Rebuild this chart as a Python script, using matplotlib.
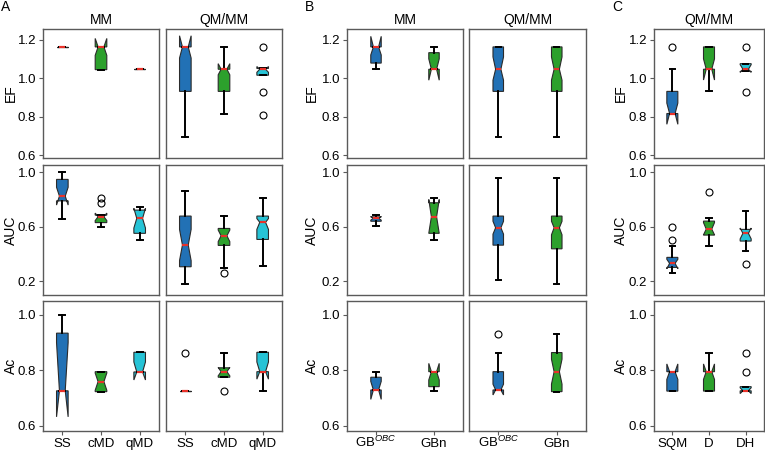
import matplotlib
matplotlib.use("Agg")
import matplotlib.pyplot as plt

plt.rcParams['font.family'] = ['Liberation Sans', 'DejaVu Sans']
plt.rcParams['mathtext.fontset'] = 'custom'
plt.rcParams['mathtext.rm'] = 'Liberation Sans'
plt.rcParams['mathtext.it'] = 'Liberation Sans:italic'

# box stats:
# (whislo, q1, cilo, med, cihi, q3, whishi, fliers)
A_MM_EF = [(1.162, 1.162, 1.162, 1.162, 1.162, 1.162, 1.162, []),
           (1.044, 1.044, 1.118, 1.162, 1.206, 1.162, 1.162, []),
           (1.046, 1.046, 1.046, 1.046, 1.046, 1.046, 1.046, [])]
A_QM_EF = [(0.696, 0.931, 1.104, 1.162, 1.220, 1.162, 1.162, []),
           (0.812, 0.931, 1.017, 1.046, 1.075, 1.046, 1.162, []),
           (1.015, 1.015, 1.030, 1.046, 1.060, 1.050, 1.050, [1.162, 0.930, 0.810])]
A_MM_AUC = [(0.658, 0.790, 0.759, 0.825, 0.890, 0.948, 1.000, []),
            (0.597, 0.630, 0.645, 0.673, 0.700, 0.685, 0.685, [0.810, 0.775]),
            (0.501, 0.551, 0.590, 0.661, 0.735, 0.722, 0.742, [])]
A_QM_AUC = [(0.177, 0.305, 0.350, 0.465, 0.580, 0.678, 0.864, []),
            (0.293, 0.462, 0.490, 0.533, 0.575, 0.587, 0.678, [0.260]),
            (0.308, 0.506, 0.580, 0.632, 0.660, 0.678, 0.808, [])]
A_MM_AC = [(0.726, 0.726, 0.632, 0.726, 0.900, 0.934, 1.000, []),
           (0.723, 0.723, 0.728, 0.759, 0.790, 0.795, 0.795, []),
           (0.794, 0.794, 0.765, 0.794, 0.830, 0.865, 0.865, [])]
A_QM_AC = [(0.726, 0.726, 0.726, 0.726, 0.726, 0.726, 0.726, [0.864]),
           (0.775, 0.775, 0.780, 0.795, 0.810, 0.809, 0.864, [0.726]),
           (0.725, 0.795, 0.768, 0.795, 0.830, 0.865, 0.865, [])]

B_MM_EF = [(1.046, 1.078, 1.120, 1.162, 1.217, 1.162, 1.162, []),
           (1.046, 1.046, 0.989, 1.046, 1.100, 1.132, 1.162, [])]
B_QM_EF = [(0.696, 0.931, 0.989, 1.046, 1.110, 1.162, 1.162, []),
           (0.696, 0.931, 0.989, 1.046, 1.110, 1.162, 1.162, [])]
B_MM_AUC = [(0.607, 0.640, 0.648, 0.662, 0.675, 0.672, 0.686, []),
            (0.501, 0.551, 0.551, 0.673, 0.800, 0.776, 0.808, [])]
B_QM_AUC = [(0.209, 0.464, 0.545, 0.592, 0.640, 0.678, 0.960, []),
            (0.177, 0.437, 0.540, 0.592, 0.640, 0.678, 0.960, [])]
B_MM_AC = [(0.729, 0.729, 0.695, 0.729, 0.760, 0.775, 0.795, []),
           (0.725, 0.741, 0.765, 0.795, 0.825, 0.795, 0.795, [])]
B_QM_AC = [(0.729, 0.729, 0.711, 0.729, 0.750, 0.795, 0.864, [0.931]),
           (0.723, 0.723, 0.750, 0.795, 0.840, 0.864, 0.931, [])]

C_QM_EF = [(0.816, 0.816, 0.760, 0.816, 0.870, 0.931, 1.046, [1.162]),
           (0.931, 1.046, 0.990, 1.046, 1.100, 1.162, 1.162, []),
           (1.035, 1.035, 1.030, 1.046, 1.070, 1.075, 1.075, [1.162, 0.930])]
C_QM_AUC = [(0.260, 0.300, 0.290, 0.330, 0.360, 0.374, 0.457, [0.599, 0.501]),
            (0.459, 0.538, 0.540, 0.582, 0.630, 0.641, 0.661, [0.857]),
            (0.422, 0.494, 0.510, 0.551, 0.590, 0.580, 0.717, [0.327])]
C_QM_AC = [(0.725, 0.725, 0.767, 0.795, 0.823, 0.795, 0.795, []),
           (0.725, 0.725, 0.767, 0.795, 0.823, 0.795, 0.864, []),
           (0.726, 0.726, 0.716, 0.726, 0.737, 0.741, 0.741, [0.864, 0.795])]

labels_A = ['SS', 'cMD', 'qMD']
labels_B = ['GB$^{OBC}$', 'GBn']
labels_C = ['SQM', 'D', 'DH']
metrics = ['EF', 'AUC', 'Ac']
colors = ['#2271b5', '#2ca02c', '#26c3d6']

ylims = [(0.585, 1.255), (0.097, 1.054), (0.581, 1.05)]
yticks = [[0.6, 0.8, 1.0, 1.2], [0.2, 0.6, 1.0], [0.6, 0.8, 1.0]]

W, H = 765, 450
rows_px = [(29, 158), (165, 295), (301, 431)]
cols_px = [(43, 159), (166, 282), (347, 463), (469, 586), (654, 764)]


def to_stats(rows):
    keys = ['whislo', 'q1', 'cilo', 'med', 'cihi', 'q3', 'whishi']
    out = []
    for r in rows:
        d = dict(zip(keys, r[:7]))
        d['fliers'] = r[7]
        out.append(d)
    return out


def draw(ax, rows, width):
    bp = ax.bxp(to_stats(rows), positions=list(range(1, len(rows) + 1)),
                widths=width, shownotches=True, patch_artist=True,
                boxprops=dict(edgecolor='#2b2b2b', linewidth=0.8),
                medianprops=dict(color='#e8322a', linewidth=1.6),
                whiskerprops=dict(color='black', linewidth=1.4, linestyle='-'),
                capprops=dict(color='black', linewidth=1.4),
                flierprops=dict(marker='o', markerfacecolor='none',
                                markeredgecolor='black', markersize=5,
                                markeredgewidth=0.8))
    for p, c in zip(bp['boxes'], colors):
        p.set_facecolor(c)


fig = plt.figure(figsize=(W / 100, H / 100), dpi=100)

panels = [
    (0, [A_MM_EF, A_MM_AUC, A_MM_AC], labels_A, 0.3, True),
    (1, [A_QM_EF, A_QM_AUC, A_QM_AC], labels_A, 0.3, False),
    (2, [B_MM_EF, B_MM_AUC, B_MM_AC], labels_B, 0.18, True),
    (3, [B_QM_EF, B_QM_AUC, B_QM_AC], labels_B, 0.18, False),
    (4, [C_QM_EF, C_QM_AUC, C_QM_AC], labels_C, 0.3, True),
]

for ci, data, xlabels, width, show_y in panels:
    x0, x1 = cols_px[ci]
    for ri, rows in enumerate(data):
        y0, y1 = rows_px[ri]
        ax = fig.add_axes([x0 / W, 1 - y1 / H, (x1 - x0) / W, (y1 - y0) / H])
        draw(ax, rows, width)
        ax.set_xlim(0.5, len(xlabels) + 0.5)
        ax.set_ylim(*ylims[ri])
        for s in ax.spines.values():
            s.set_color('#5a5a5a')
            s.set_linewidth(1.0)
        ax.tick_params(axis='y', length=3, width=0.8, color='#5a5a5a', pad=2, labelsize=9.5)
        ax.tick_params(axis='x', length=3, width=0.8, color='#5a5a5a', pad=8.5, labelsize=9.5)
        if show_y:
            ax.set_yticks(yticks[ri])
            ax.set_yticklabels(['%.1f' % v for v in yticks[ri]])
        else:
            ax.set_yticks([])
        if ri == 2:
            ax.set_xticks(list(range(1, len(xlabels) + 1)))
            ax.set_xticklabels(xlabels, va='baseline')
        else:
            ax.set_xticks([])

# y labels
for xl in [11, 312, 621]:
    for ri, m in enumerate(metrics):
        y0, y1 = rows_px[ri]
        fig.text(xl / W, 1 - (y0 + y1) / 2 / H, m, rotation=90,
                 ha='center', va='center', fontsize=10)

# column titles
for ci, t in zip(range(5), ['MM', 'QM/MM', 'MM', 'QM/MM', 'QM/MM']):
    x0, x1 = cols_px[ci]
    fig.text((x0 + x1) / 2 / W, 1 - 20 / H, t, ha='center', va='center', fontsize=10)

# panel letters
for xl, t in [(6, 'A'), (309, 'B'), (617, 'C')]:
    fig.text(xl / W, 1 - 7 / H, t, ha='center', va='center', fontsize=10)

fig.savefig('out.png', dpi=100)
